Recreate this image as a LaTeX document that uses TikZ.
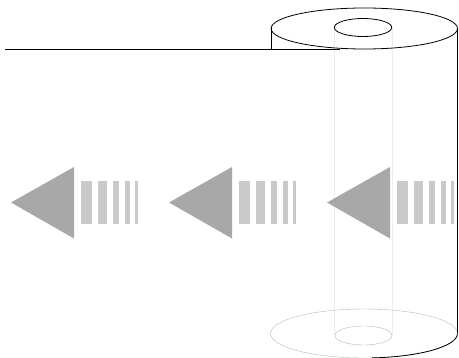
\documentclass[tikz,border=0pt]{standalone}
\definecolor{tri}{gray}{0.66}
\definecolor{barc}{gray}{0.79}
\tikzset{
  pic0/.style={x=1pt,y=-1pt},
  outline/.style={draw=black,line width=0.8pt},
  hidden/.style={draw=black!28,line width=0.4pt},
  faint/.style={draw=black!7,line width=0.6pt},
  arrowhead/.style={fill=tri},
  stripe/.style={fill=barc}
}
\begin{document}
\begin{tikzpicture}[pic0]
\useasboundingbox (0,0) rectangle (459,358);
\fill[white] (0,0) rectangle (459,358);
% faint core lines
\draw[faint] (334.5,28) -- (334.5,335);
\draw[faint] (392.3,28) -- (392.3,335);
% arrows
\foreach \d in {0,158,316}{
  \begin{scope}[xshift=\d pt]
  \fill[arrowhead] (11,202.5) -- (74,167) -- (74,238.5) -- cycle;
  \fill[stripe] (80.7,180.7) rectangle (92,224.3);
  \fill[stripe] (98,180.7) rectangle (107,224.3);
  \fill[stripe] (112.7,180.7) rectangle (119.3,224.3);
  \fill[stripe] (125,180.7) rectangle (129.7,224.3);
  \fill[stripe] (135,180.7) rectangle (137.7,224.3);
  \end{scope}
}
% bottom ellipses
\draw[hidden] (364,333.5) ellipse [x radius=93.5,y radius=24.5];
\draw[hidden] (363.5,335.5) ellipse [x radius=28.5,y radius=9.5];
% visible bottom arc
\draw[outline] (457.5,333.5) arc [start angle=0,end angle=85,x radius=93.5,y radius=24.5];
% top
\draw[outline] (364.3,28.5) ellipse [x radius=93.2,y radius=20.5];
\draw[outline] (363,27.5) ellipse [x radius=28.7,y radius=9];
\draw[outline] (457.5,28.5) -- (457.5,333.5);
\draw[outline] (271,28.5) -- (271,49);
\draw[outline] (5,49) -- (340,49);
\end{tikzpicture}
\end{document}
